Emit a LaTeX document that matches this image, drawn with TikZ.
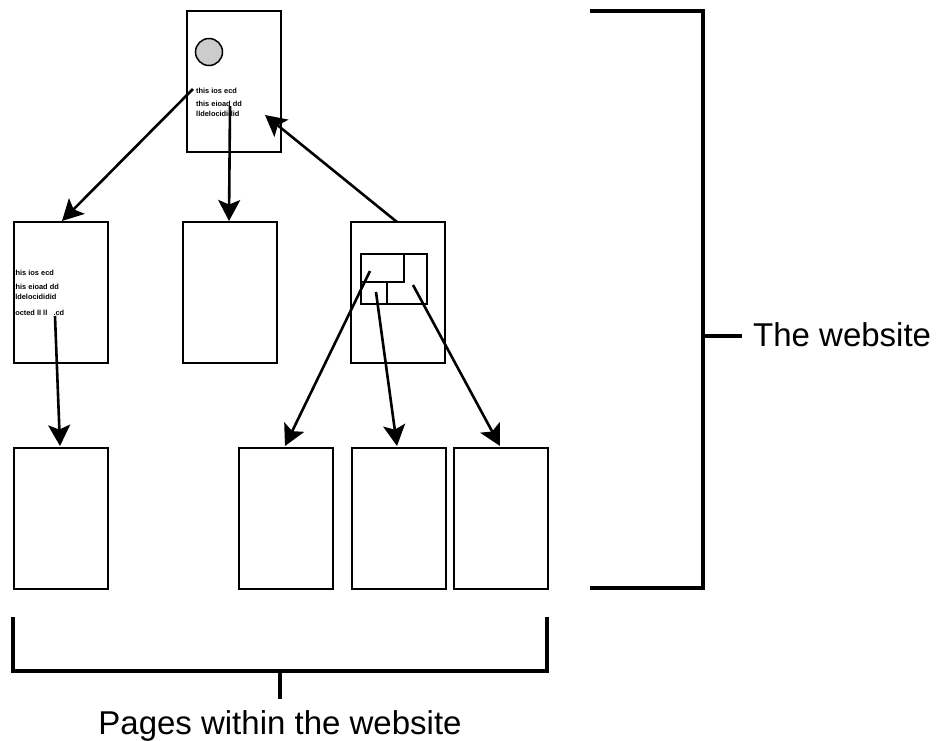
\documentclass[tikz,border=0pt]{standalone}
\usepackage{fontspec}
\setmainfont{Liberation Sans}
\usetikzlibrary{arrows.meta}
\begin{document}
\begin{tikzpicture}[x=1pt,y=-1pt,
  page/.style={draw, line width=1.7pt, minimum width=94pt, minimum height=141pt, inner sep=0pt, anchor=north west},
  conn/.style={line width=2.6pt, -{Stealth[length=21pt,width=22pt,inset=4.5pt]}},
  brk/.style={line width=3.5pt, line cap=butt, line join=miter},
  tiny/.style={font=\fontsize{7.4}{7.4}\selectfont\bfseries, inner sep=0pt, anchor=west},
  lbl/.style={font=\fontsize{33}{36}\selectfont, inner sep=0pt}]
\useasboundingbox (0,0) rectangle (938,740);
% pages
\node[page] (top) at (186,10) {};
\node[page] (l1) at (13,221) {};
\node[page] (m1) at (182,221) {};
\node[page] (r1) at (350,221) {};
\node[page] (b1) at (13,447) {};
\node[page] (b2) at (238,447) {};
\node[page] (b3) at (351,447) {};
\node[page] (b4) at (453,447) {};
% top page content
\node[draw, line width=1.5pt, fill=black!20, circle, minimum size=27pt, inner sep=0pt] (logo) at (209,52) {};
\node[tiny] (t1) at (196,91) {this ios ecd};
\node[tiny] (t2) at (196,104) {this eioad dd};
\node[tiny] (t3) at (196,114) {lldelocididid};
% left page content
\node[tiny] (s1) at (13,273) {this ios ecd};
\node[tiny] (s2) at (13,287) {this eioad dd};
\node[tiny] (s3) at (13,297) {lldelocididid};
\node[tiny] (s4) at (13,313) {locted ll ll \ \ .cd};
% menu in right page
\node[draw, line width=1.7pt, minimum width=66pt, minimum height=50pt, inner sep=0pt, anchor=north west] (menu) at (360,253) {};
\node[draw, line width=1.7pt, minimum width=43pt, minimum height=28pt, inner sep=0pt, anchor=north west] (menuA) at (360,253) {};
\coordinate (mB1) at (387,281);
\coordinate (mB2) at (387,303);
\draw[line width=1.7pt] (mB1) -- (mB2);
% connector end points
\coordinate (a1s) at (193,89);
\coordinate (a1e) at (62,221);
\coordinate (a2s) at (230,106);
\coordinate (a2e) at (229,221);
\coordinate (a3s) at (397,222);
\coordinate (a3e) at (265,115);
\coordinate (a4s) at (55,316);
\coordinate (a4e) at (60,446);
\coordinate (a5s) at (370,271);
\coordinate (a5e) at (285,446);
\coordinate (a6s) at (376,292);
\coordinate (a6e) at (397,446);
\coordinate (a7s) at (413,285);
\coordinate (a7e) at (500,446);
\draw[conn] (a1s) -- (a1e);
\draw[conn] (a2s) -- (a2e);
\draw[conn] (a3s) -- (a3e);
\draw[conn] (a4s) -- (a4e);
\draw[conn] (a5s) -- (a5e);
\draw[conn] (a6s) -- (a6e);
\draw[conn] (a7s) -- (a7e);
% right bracket
\coordinate (rb1) at (590,11);
\coordinate (rb2) at (703,11);
\coordinate (rb3) at (703,588);
\coordinate (rb4) at (590,588);
\coordinate (rbm) at (703,336);
\coordinate (rbt) at (742,336);
\draw[brk] (rb1) -- (rb2) -- (rb3) -- (rb4);
\draw[brk] (rbm) -- (rbt);
\node[lbl, anchor=base west] (web) at (753,346) {The website};
% bottom bracket
\coordinate (bb1) at (13,617);
\coordinate (bb2) at (13,671);
\coordinate (bb3) at (547,671);
\coordinate (bb4) at (547,617);
\coordinate (bbm) at (280,671);
\coordinate (bbt) at (280,699);
\draw[brk] (bb1) -- (bb2) -- (bb3) -- (bb4);
\draw[brk] (bbm) -- (bbt);
\node[lbl, anchor=base] (pages) at (280,734) {Pages within the website};
\end{tikzpicture}
\end{document}
